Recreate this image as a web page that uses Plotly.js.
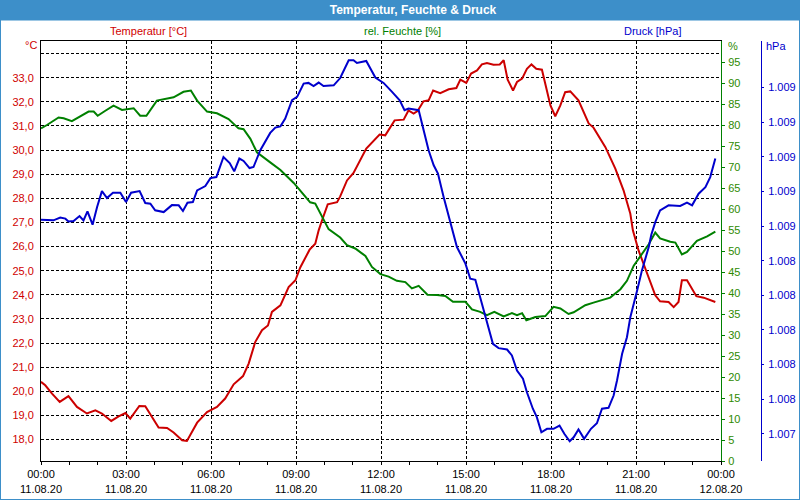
<!DOCTYPE html>
<html>
<head>
<meta charset="utf-8">
<script src="https://cdn.plot.ly/plotly-3.0.1.min.js"></script>
<style>
html,body{margin:0;padding:0;background:#fff;}
#wrap{position:relative;width:800px;height:500px;}
#chart{width:800px;height:500px;}
#frame{position:absolute;left:0;top:0;width:798px;height:498px;border:1px solid #3d8fc9;pointer-events:none;}
</style>
</head>
<body>
<div id="wrap"><div id="chart"></div><div id="frame"></div></div>
<script>
// ---- data (hours since 11.08.20 00:00) ----
const tempHours = [0.0,0.15,0.39,0.66,0.97,1.27,1.62,1.92,2.15,2.48,2.74,2.98,3.15,3.47,3.68,3.97,4.15,4.45,4.68,4.98,5.15,5.51,5.86,6.21,6.50,6.80,7.13,7.33,7.56,7.80,8.01,8.15,8.45,8.74,8.98,9.15,9.48,9.68,9.80,9.92,10.12,10.45,10.56,10.80,11.03,11.48,11.74,11.95,12.15,12.48,12.80,12.97,13.15,13.29,13.50,13.68,13.84,14.09,14.39,14.66,14.80,15.01,15.18,15.39,15.56,15.74,15.97,16.19,16.33,16.47,16.66,16.80,16.98,17.15,17.31,17.48,17.68,17.98,18.15,18.33,18.50,18.68,18.97,19.33,19.50,19.92,20.27,20.56,20.80,20.89,21.09,21.38,21.68,21.85,22.15,22.33,22.50,22.62,22.80,23.13,23.39,23.80];
const temperature = [20.39,20.25,19.90,19.56,19.80,19.35,19.08,19.21,19.08,18.77,18.96,19.10,18.87,19.39,19.38,18.84,18.50,18.48,18.29,17.97,17.94,18.70,19.14,19.35,19.70,20.29,20.63,21.15,22.04,22.53,22.73,23.29,23.56,24.32,24.60,25.13,25.87,26.12,26.67,27.09,27.75,27.84,28.08,28.74,29.05,30.06,30.40,30.64,30.61,31.23,31.26,31.64,31.51,31.62,32.02,32.06,32.47,32.36,32.52,32.57,32.92,32.78,33.17,33.30,33.55,33.61,33.54,33.55,33.72,32.92,32.47,32.82,32.96,33.37,33.55,33.37,33.33,31.85,31.40,31.85,32.40,32.43,32.06,31.10,30.93,30.12,29.23,28.33,27.36,26.67,25.84,24.88,23.98,23.73,23.70,23.49,23.70,24.60,24.60,23.94,23.88,23.70];

const humHours = [0.0,0.21,0.62,0.80,1.09,1.39,1.68,1.86,2.00,2.27,2.56,2.86,3.27,3.50,3.72,4.09,4.39,4.68,5.03,5.29,5.51,5.86,6.21,6.62,6.97,7.15,7.39,7.62,8.09,8.45,8.92,9.27,9.50,9.68,9.97,10.15,10.56,10.80,11.09,11.45,11.68,11.98,12.27,12.56,12.86,13.09,13.33,13.64,13.98,14.27,14.54,14.98,15.21,15.50,15.74,16.00,16.33,16.62,16.80,16.98,17.13,17.45,17.80,18.09,18.33,18.62,18.80,19.21,19.50,19.86,20.09,20.45,20.68,20.92,21.15,21.45,21.68,21.85,22.21,22.39,22.62,22.80,23.15,23.51,23.80];
const humidity = [79.2,80.0,81.8,81.6,80.9,82.1,83.2,83.2,82.2,83.4,84.6,83.6,84.0,82.2,82.2,85.8,86.2,86.6,87.9,88.2,85.8,83.2,82.8,81.4,79.2,79.0,76.7,73.5,71.1,69.3,66.2,63.5,61.6,61.3,57.6,55.2,53.2,51.4,50.6,48.8,46.2,44.5,43.9,42.9,42.6,41.1,41.7,39.6,39.5,39.3,37.9,37.9,36.1,35.5,34.7,35.5,34.4,35.2,34.7,35.2,33.5,34.3,34.5,36.7,36.3,35.0,35.4,37.1,37.7,38.5,38.9,40.9,42.9,46.5,48.8,51.6,54.4,53.0,52.2,52.0,49.2,49.8,52.4,53.5,54.6];

const presHours = [0.0,0.44,0.68,0.86,0.97,1.15,1.36,1.50,1.64,1.82,1.98,2.15,2.33,2.54,2.80,3.00,3.18,3.48,3.68,3.86,4.03,4.33,4.62,4.86,5.01,5.17,5.36,5.51,5.80,5.98,6.19,6.44,6.66,6.82,7.00,7.15,7.36,7.50,7.74,8.09,8.27,8.45,8.62,8.86,9.04,9.27,9.44,9.62,9.80,9.97,10.33,10.56,10.86,11.03,11.15,11.48,11.80,12.09,12.39,12.66,12.83,12.97,13.33,13.50,13.68,13.86,14.01,14.21,14.39,14.56,14.68,14.98,15.15,15.33,15.62,15.95,16.15,16.45,16.62,16.80,17.01,17.15,17.36,17.50,17.66,17.86,18.09,18.30,18.47,18.66,18.80,18.97,19.17,19.41,19.62,19.80,20.03,20.21,20.33,20.51,20.68,20.80,21.04,21.21,21.45,21.54,21.68,21.85,22.15,22.56,22.80,22.98,23.21,23.45,23.62,23.80];
const pressure = [1008.637,1008.633,1008.649,1008.643,1008.627,1008.629,1008.658,1008.633,1008.685,1008.608,1008.710,1008.802,1008.762,1008.793,1008.793,1008.739,1008.793,1008.802,1008.733,1008.729,1008.691,1008.681,1008.721,1008.720,1008.687,1008.735,1008.739,1008.806,1008.831,1008.877,1008.883,1008.999,1008.964,1008.916,1008.990,1008.976,1008.935,1008.941,1009.038,1009.138,1009.169,1009.176,1009.221,1009.327,1009.346,1009.423,1009.427,1009.409,1009.429,1009.409,1009.413,1009.455,1009.558,1009.558,1009.542,1009.554,1009.458,1009.427,1009.375,1009.327,1009.269,1009.279,1009.269,1009.163,1009.038,1008.951,1008.903,1008.768,1008.652,1008.540,1008.479,1008.383,1008.296,1008.290,1008.113,1007.920,1007.895,1007.887,1007.853,1007.766,1007.718,1007.640,1007.545,1007.496,1007.409,1007.429,1007.429,1007.448,1007.400,1007.357,1007.380,1007.425,1007.371,1007.429,1007.461,1007.545,1007.550,1007.621,1007.708,1007.862,1007.958,1008.074,1008.228,1008.344,1008.479,1008.550,1008.623,1008.691,1008.720,1008.716,1008.735,1008.720,1008.787,1008.825,1008.883,1008.990];

const xTickVals = [0,3,6,9,12,15,18,21,24];
const xTickText = ['00:00<br>11.08.20','03:00<br>11.08.20','06:00<br>11.08.20','09:00<br>11.08.20','12:00<br>11.08.20','15:00<br>11.08.20','18:00<br>11.08.20','21:00<br>11.08.20','00:00<br>12.08.20'];
const tempTickVals = [18,19,20,21,22,23,24,25,26,27,28,29,30,31,32,33,34];
const humTickVals = [0,5,10,15,20,25,30,35,40,45,50,55,60,65,70,75,80,85,90,95];
const presTickVals = [1007.4,1007.6,1007.8,1008.0,1008.2,1008.4,1008.6,1008.8,1009.0,1009.2,1009.4];

const chartTitle = 'Temperatur, Feuchte &amp; Druck';
const headerTemp = 'Temperatur [°C]';
const headerHum = 'rel. Feuchte [%]';
const headerPres = 'Druck [hPa]';

// ---- styling / layout ----
const RED = '#cc0000', GREEN = '#008000', BLUE = '#0000cc', BAR = '#3d8fc9';
const FONT = 'Liberation Sans, Arial, sans-serif';
const W = 800, H = 500;
const M = {l: 41, r: 39, t: 41, b: 39};
const plotW = W - M.l - M.r, plotH = H - M.t - M.b;
const px2x = p => (p - M.l) / plotW;
const px2y = p => 1 - (p - M.t) / plotH;
const xDomEnd = (721 - M.l) / plotW;

const tempText = tempTickVals.map(v => v === 34 ? '' : v.toFixed(1).replace('.', ','));

const traces = [
  {x: humHours, y: humidity, yaxis: 'y2', type: 'scatter', mode: 'lines', line: {color: GREEN, width: 2}, hoverinfo: 'skip'},
  {x: tempHours, y: temperature, yaxis: 'y', type: 'scatter', mode: 'lines', line: {color: RED, width: 2}, hoverinfo: 'skip'},
  {x: presHours, y: pressure, yaxis: 'y3', type: 'scatter', mode: 'lines', line: {color: BLUE, width: 2}, hoverinfo: 'skip'}
];

function ann(text, xp, yp, color, xanchor) {
  return {text: text, xref: 'paper', yref: 'paper', x: px2x(xp), y: px2y(yp), showarrow: false,
          xanchor: xanchor || 'center', yanchor: 'middle', font: {family: FONT, size: 11, color: color}};
}

const layout = {
  width: W, height: H,
  margin: M,
  paper_bgcolor: '#ffffff', plot_bgcolor: '#ffffff',
  separators: ',.',
  showlegend: false,
  font: {family: FONT, size: 11, color: '#000'},
  title: {text: '<b>' + chartTitle + '</b>', xref: 'container', yref: 'container', x: 413 / W, y: 1 - 10 / H,
          xanchor: 'center', yanchor: 'middle', font: {family: FONT, size: 12, color: '#ffffff'}},
  xaxis: {
    domain: [0, xDomEnd], range: [0, 24], tickmode: 'array', tickvals: xTickVals, ticktext: xTickText,
    showgrid: true, gridcolor: '#000', gridwidth: 1, griddash: '3px,2px', zeroline: false,
    showline: true, linecolor: '#000', linewidth: 1, mirror: true,
    ticks: 'outside', ticklen: 3, tickcolor: '#000', tickfont: {family: FONT, size: 11, color: '#000'},
    minor: {tickmode: 'linear', tick0: 0, dtick: 1, ticks: 'outside', ticklen: 3, tickcolor: '#000', showgrid: false}
  },
  yaxis: {
    range: [17.11, 34.52], tickmode: 'array', tickvals: tempTickVals, ticktext: tempText,
    showgrid: true, gridcolor: '#000', gridwidth: 1, griddash: '3px,2px', zeroline: false,
    showline: true, linecolor: '#000', linewidth: 1, ticks: '', ticklabelstandoff: 4,
    tickfont: {family: FONT, size: 11, color: '#d00000'}
  },
  yaxis2: {
    overlaying: 'y', side: 'right', anchor: 'x', range: [0, 100], tickmode: 'array', tickvals: humTickVals,
    showgrid: false, zeroline: false, showline: true, linecolor: GREEN, linewidth: 1,
    ticks: 'outside', ticklen: 3, tickcolor: GREEN, ticklabelstandoff: 1,
    tickfont: {family: FONT, size: 11, color: '#2e8a00'}
  },
  yaxis3: {
    overlaying: 'y', side: 'right', anchor: 'free', position: 1, range: [1007.243, 1009.669],
    tickmode: 'array', tickvals: presTickVals, tickformat: ',.0f',
    showgrid: false, zeroline: false, showline: true, linecolor: BLUE, linewidth: 1,
    ticks: 'outside', ticklen: 2, tickcolor: BLUE, ticklabelstandoff: 2,
    tickfont: {family: FONT, size: 11, color: BLUE}
  },
  shapes: [
    {type: 'rect', xref: 'paper', yref: 'paper', x0: px2x(0), x1: px2x(W), y0: px2y(0), y1: px2y(20.5),
     fillcolor: BAR, line: {width: 0}, layer: 'above'}
  ],
  annotations: [
    ann(headerTemp, 148, 31, '#d00000'),
    ann(headerHum, 402, 31, GREEN),
    ann(headerPres, 652, 31, BLUE),
    ann('°C', 31, 45, '#d00000'),
    ann('%', 726, 46, '#2e8a00', 'left'),
    ann('hPa', 764, 46, BLUE, 'left')
  ]
};

Plotly.newPlot('chart', traces, layout, {staticPlot: true, displayModeBar: false});
</script>
</body>
</html>
